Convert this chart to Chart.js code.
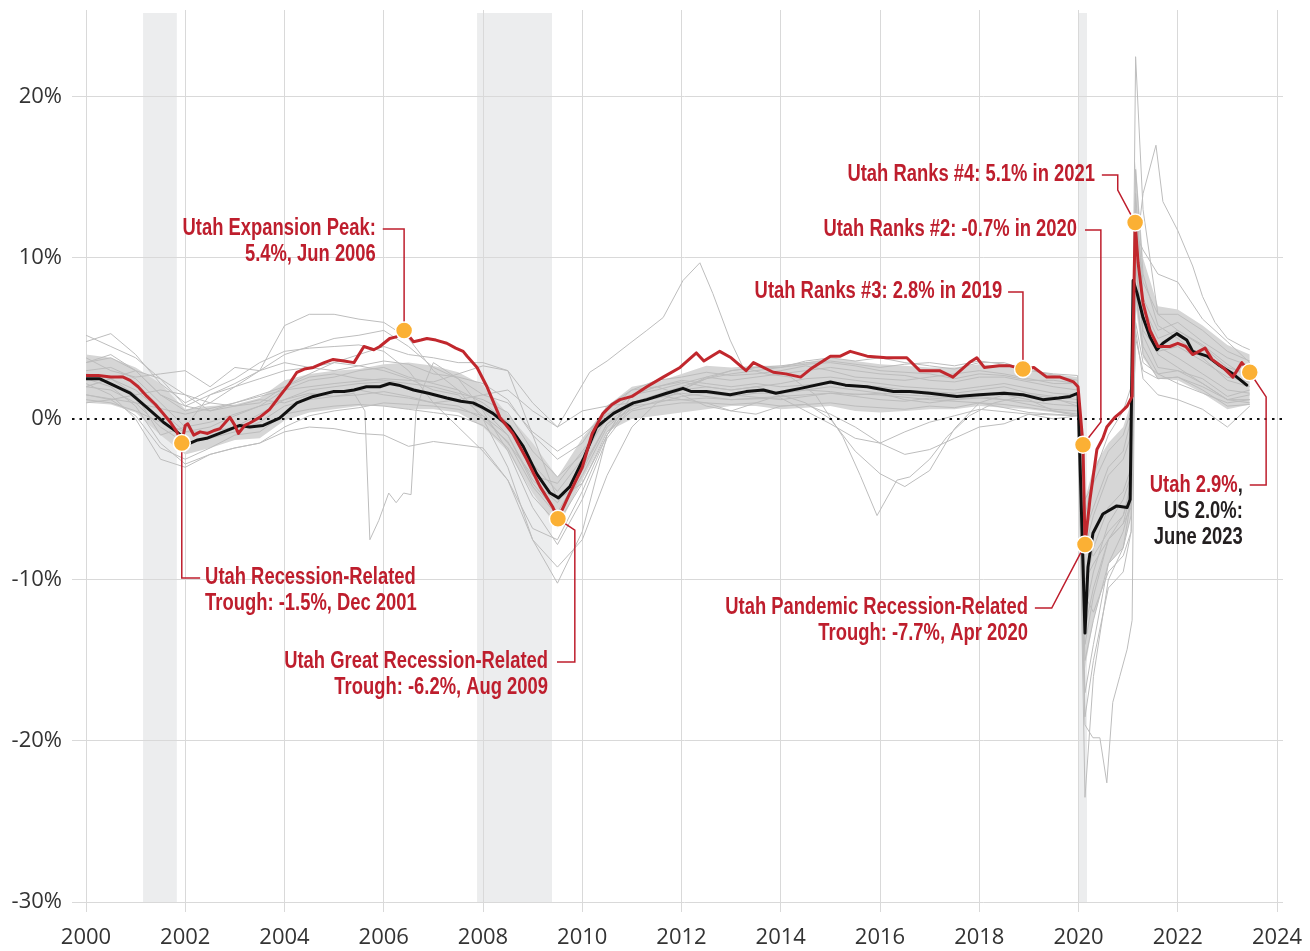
<!DOCTYPE html>
<html>
<head>
<meta charset="utf-8">
<script src="https://cdn.jsdelivr.net/npm/chart.js@4.4.0/dist/chart.umd.min.js"></script>
<style>
  html, body { margin: 0; padding: 0; background: #fff; }
</style>
</head>
<body>
<canvas id="empChart" width="1310" height="951"></canvas>
<script>
// tick labels
const yearTicks = [2000, 2002, 2004, 2006, 2008, 2010, 2012, 2014, 2016, 2018, 2020, 2022, 2024];
const pctTicks = [-30, -20, -10, 0, 10, 20];

// recessions (shaded)
const recessionStart = [2001.15, 2007.88, 2019.99];
const recessionEnd = [2001.83, 2009.39, 2020.17];

// Utah, year-over-year job growth (%)
const utahT = [2000.0, 2000.25, 2000.5, 2000.75, 2000.89, 2001.05, 2001.23, 2001.4, 2001.55, 2001.7,
  2001.83, 2001.93, 2002.0, 2002.05, 2002.17, 2002.3, 2002.45, 2002.6, 2002.7, 2002.9,
  2003.0, 2003.07, 2003.2, 2003.3, 2003.5, 2003.7, 2003.9, 2004.1, 2004.25, 2004.4,
  2004.58, 2004.8, 2004.98, 2005.2, 2005.4, 2005.6, 2005.8, 2005.92, 2006.12, 2006.25,
  2006.41, 2006.6, 2006.75, 2006.87, 2007.05, 2007.27, 2007.45, 2007.6, 2007.68, 2007.88,
  2008.08, 2008.34, 2008.6, 2008.88, 2009.15, 2009.41, 2009.51, 2009.75, 2010.0, 2010.2,
  2010.42, 2010.6, 2010.76, 2011.0, 2011.3, 2011.63, 2011.97, 2012.3, 2012.45, 2012.77,
  2013.0, 2013.3, 2013.45, 2013.85, 2014.1, 2014.4, 2014.6, 2015.0, 2015.2, 2015.4,
  2015.74, 2016.13, 2016.54, 2016.8, 2017.2, 2017.47, 2017.8, 2017.95, 2018.1, 2018.4,
  2018.62, 2018.88, 2019.1, 2019.36, 2019.63, 2019.9, 2019.99, 2020.09, 2020.13, 2020.23,
  2020.37, 2020.49, 2020.57, 2020.73, 2020.85, 2020.98, 2021.08, 2021.14, 2021.2, 2021.3,
  2021.44, 2021.6, 2021.84, 2022.0, 2022.16, 2022.3, 2022.55, 2022.69, 2022.91, 2023.11,
  2023.29, 2023.45];
const utahV = [2.7, 2.7, 2.6, 2.6, 2.4, 2.0, 1.4, 0.9, 0.35, -0.2,
  -0.8, -1.5, -0.4, -0.3, -1.0, -0.8, -0.9, -0.7, -0.6, 0.1,
  -0.4, -0.9, -0.4, -0.25, 0.1, 0.6, 1.4, 2.2, 2.9, 3.1,
  3.2, 3.5, 3.7, 3.6, 3.5, 4.5, 4.3, 4.5, 5.0, 5.1,
  5.5, 4.8, 4.9, 5.0, 4.9, 4.7, 4.4, 4.2, 3.9, 3.2,
  2.0, 0.1, -0.9, -2.5, -4.2, -5.5, -6.2, -4.6, -3.0, -0.9,
  0.35, 0.9, 1.2, 1.4, 2.0, 2.6, 3.2, 4.1, 3.6, 4.2,
  3.8, 3.0, 3.5, 2.9, 2.8, 2.6, 3.1, 3.9, 3.9, 4.2,
  3.9, 3.8, 3.8, 3.0, 3.0, 2.6, 3.5, 3.8, 3.2, 3.3,
  3.3, 3.1, 3.2, 2.6, 2.6, 2.3, 2.0, -1.6, -7.8, -5.0,
  -1.9, -1.2, -0.5, 0.1, 0.4, 0.8, 1.4, 12.2, 9.7, 7.2,
  5.5, 4.5, 4.5, 4.7, 4.5, 4.0, 4.4, 3.7, 3.2, 2.6,
  3.5, 2.9];

// United States
const usT = [2000.0, 2000.27, 2000.55, 2000.89, 2001.23, 2001.56, 2001.83, 2002.1, 2002.25, 2002.43,
  2002.6, 2002.77, 2003.1, 2003.3, 2003.57, 2003.9, 2004.25, 2004.58, 2004.98, 2005.2,
  2005.4, 2005.65, 2005.92, 2006.12, 2006.3, 2006.6, 2006.9, 2007.27, 2007.55, 2007.8,
  2008.0, 2008.2, 2008.54, 2008.81, 2009.08, 2009.35, 2009.52, 2009.75, 2010.02, 2010.29,
  2010.63, 2011.03, 2011.3, 2011.7, 2012.03, 2012.2, 2012.5, 2012.98, 2013.3, 2013.65,
  2013.9, 2014.4, 2015.0, 2015.3, 2015.74, 2016.27, 2016.6, 2017.0, 2017.55, 2018.0,
  2018.5, 2018.88, 2019.28, 2019.6, 2019.83, 2019.99, 2020.13, 2020.19, 2020.29, 2020.49,
  2020.77, 2020.98, 2021.04, 2021.1, 2021.18, 2021.3, 2021.44, 2021.58, 2021.7, 2021.98,
  2022.18, 2022.3, 2022.59, 2022.85, 2023.11, 2023.39];
const usV = [2.5, 2.5, 2.1, 1.6, 0.7, -0.2, -0.8, -1.5, -1.3, -1.2,
  -1.0, -0.8, -0.4, -0.5, -0.4, 0.05, 1.0, 1.4, 1.7, 1.7,
  1.8, 2.0, 2.0, 2.2, 2.1, 1.8, 1.6, 1.3, 1.1, 1.0,
  0.7, 0.35, -0.5, -1.7, -3.4, -4.6, -4.9, -4.2, -2.5, -0.5,
  0.35, 1.0, 1.2, 1.6, 1.9, 1.7, 1.7, 1.5, 1.7, 1.8,
  1.6, 1.9, 2.3, 2.1, 2.0, 1.7, 1.7, 1.6, 1.4, 1.5,
  1.6, 1.5, 1.2, 1.3, 1.4, 1.6, -13.3, -9.2, -7.1, -5.9,
  -5.4, -5.5, -5.0, 8.6, 7.8, 6.3, 5.1, 4.3, 4.7, 5.3,
  4.9, 4.2, 3.9, 3.3, 2.8, 2.1];

// other states: shared half-year grid (denser around 2020)
const grayT = [2000.0, 2000.5, 2001.0, 2001.5, 2002.0, 2002.5, 2003.0, 2003.5, 2004.0, 2004.5,
  2005.0, 2005.5, 2006.0, 2006.5, 2007.0, 2007.5, 2008.0, 2008.5, 2009.0, 2009.5,
  2010.0, 2010.5, 2011.0, 2011.5, 2012.0, 2012.5, 2013.0, 2013.5, 2014.0, 2014.5,
  2015.0, 2015.5, 2016.0, 2016.5, 2017.0, 2017.5, 2018.0, 2018.5, 2019.0, 2019.5,
  2019.98, 2020.13, 2020.3, 2020.6, 2020.9, 2021.06, 2021.15, 2021.3, 2021.6, 2022.0, 2022.5, 2023.0, 2023.45];

// dense core of the state lines
const bandHi = [4.0, 3.8, 3.2, 2.2, 0.6, 0.8, 0.9, 1.3, 2.4, 2.8,
  3.0, 3.1, 3.4, 3.5, 3.3, 2.9, 2.1, 0.3, -1.5, -3.6,
  -1.2, 0.8, 2.0, 2.3, 2.8, 3.3, 3.2, 3.3, 3.3, 3.5,
  3.8, 3.6, 3.4, 3.3, 3.2, 3.2, 3.4, 3.3, 3.0, 2.8,
  2.6, -5.0, -3.0, -1.5, -0.5, 1.0, 16.0, 10.0, 7.0, 6.8, 5.8, 4.6, 4.0];
const bandLo = [1.0, 0.9, 0.4, -1.0, -2.2, -1.8, -1.3, -1.2, -0.1, 0.4,
  0.6, 0.8, 0.8, 0.6, 0.6, 0.4, -0.5, -2.0, -4.6, -6.8,
  -3.8, -0.8, 0.0, 0.2, 0.4, 0.6, 0.8, 0.8, 0.6, 0.7,
  0.8, 0.5, 0.4, 0.5, 0.6, 0.6, 0.8, 0.7, 0.6, 0.4,
  0.2, -15.5, -12.5, -9.0, -8.0, -6.0, 7.0, 3.8, 2.5, 2.4, 1.6, 0.6, 0.9];

const stateA = [3.5, 3.8, 3.0, 1.5, 0.5, 1.0, 2.0, 3.0, 5.8, 6.5,
  6.5, 6.2, 6.0, 5.0, 3.0, 1.8, 0.0, -3.0, -7.5, -9.2,
  -7.5, -3.5, -0.5, 1.0, 1.8, 2.5, 3.0, 3.2, 3.3, 3.5,
  3.6, 3.4, 3.2, 3.4, 3.5, 3.3, 3.6, 3.4, 3.1, 2.7,
  2.4, -23.5, -16.0, -10.0, -8.0, -5.0, 22.5, 13.0, 6.5, 5.5, 4.6, 3.4, 2.5];
const stateB = [3.5, 4.0, 3.0, 1.5, 0.8, 1.5, 2.2, 3.0, 4.0, 4.5,
  5.0, 5.2, 5.5, 4.5, 3.2, 2.5, 0.5, -2.0, -5.5, -7.8,
  -5.0, -1.2, 0.8, 1.5, 2.0, 2.5, 2.8, 3.0, 3.2, 3.6,
  3.8, 3.6, 3.8, 3.5, 3.3, 3.1, 3.5, 3.5, 3.0, 2.8,
  2.7, -6.0, -3.5, -1.0, 0.5, 2.0, 13.0, 8.5, 6.5, 6.5, 5.5, 4.2, 3.6];
const stateC = [2.8, 2.5, 1.8, 0.5, -0.8, -0.8, -0.5, 0.3, 1.2, 1.8,
  2.0, 2.2, 2.3, 2.0, 1.5, 1.2, 0.6, -1.0, -3.8, -5.2,
  -3.0, -0.3, 1.0, 1.3, 1.8, 2.0, 1.8, 2.0, 2.2, 2.5,
  2.6, 2.4, 2.2, 2.0, 1.9, 1.8, 2.0, 2.2, 1.9, 1.6,
  1.5, -10.5, -8.0, -5.5, -4.5, -3.0, 9.5, 5.5, 4.2, 4.5, 3.6, 2.6, 2.3];
const stateD = [1.5, 1.2, 0.2, -1.8, -2.5, -1.8, -1.0, -0.8, 0.3, 0.6,
  0.8, 0.9, 0.8, 0.6, 0.4, 0.2, -0.4, -1.8, -4.8, -6.5,
  -4.0, -0.8, 0.5, 0.8, 1.0, 1.0, 0.9, 1.0, 0.8, 0.9,
  1.0, 0.8, 0.7, 0.6, 0.8, 0.7, 1.0, 0.9, 0.7, 0.5,
  0.3, -15.0, -12.5, -9.0, -8.0, -6.0, 8.0, 4.0, 2.5, 2.6, 1.8, 0.8, 0.9];
const stateE = [3.0, 3.2, 2.5, 1.0, -0.5, -0.2, 0.3, 0.8, 1.8, 2.4,
  2.6, 3.0, 3.2, 2.6, 2.2, 1.8, 1.0, -0.2, -2.8, -4.5,
  -2.5, 0.2, 1.5, 1.8, 2.2, 2.6, 2.4, 2.6, 2.8, 3.0,
  3.2, 3.0, 2.8, 2.7, 2.4, 2.3, 2.6, 2.6, 2.3, 2.0,
  1.8, -8.0, -6.0, -3.5, -2.5, -1.0, 11.0, 7.0, 5.0, 5.5, 4.5, 3.2, 2.8];
const stateF = [2.0, 1.8, 1.0, -0.5, -1.5, -1.2, -0.8, -0.2, 0.8, 1.2,
  1.4, 1.5, 1.7, 1.4, 1.0, 0.8, 0.0, -1.4, -4.2, -6.0,
  -3.5, -0.5, 0.8, 1.0, 1.4, 1.6, 1.4, 1.6, 1.6, 1.8,
  2.0, 1.8, 1.6, 1.5, 1.4, 1.3, 1.5, 1.7, 1.4, 1.2,
  1.0, -13.0, -10.5, -7.5, -6.5, -4.5, 12.5, 6.8, 4.5, 3.8, 2.8, 1.8, 1.6];
const stateG = [5.2, 4.5, 3.8, 2.5, 0.8, 0.5, 0.8, 1.0, 2.0, 2.6,
  2.8, 2.5, 2.4, 2.2, 2.0, 1.6, 1.2, 0.4, -2.0, -3.6,
  -2.2, 0.5, 1.8, 2.0, 2.4, 2.2, 2.0, 2.2, 2.0, 2.1,
  2.3, 2.1, 2.0, 1.8, 1.7, 1.6, 1.8, 2.0, 1.6, 1.4,
  1.2, -7.0, -5.5, -3.0, -2.0, 0.0, 15.5, 9.0, 5.8, 5.0, 3.8, 2.4, 2.0];
const stateH = [3.8, 3.0, 2.6, 2.8, 3.0, 2.0, 3.2, 3.0, 3.5, 3.2,
  3.0, 3.3, 3.6, 3.4, 2.8, 2.6, 2.2, 1.2, -1.0, -2.5,
  -1.5, 0.8, 1.8, 2.4, 2.6, 2.9, 2.7, 2.8, 3.0, 3.3,
  3.0, 2.6, 2.5, 2.4, 2.6, 2.8, 3.0, 2.8, 2.5, 2.2,
  2.2, -5.0, -4.0, -2.0, -1.0, 0.5, 14.0, 7.5, 5.5, 6.0, 4.8, 3.8, 3.3];
const stateI = [2.5, 2.0, 0.8, -1.5, -2.8, -2.2, -1.8, -1.5, -0.5, 0.2,
  0.5, 0.7, 1.0, 0.9, 0.8, 0.6, 0.2, -1.0, -4.0, -5.8,
  -3.2, -0.3, 0.6, 1.1, 1.2, 1.3, 1.2, 1.3, 1.4, 1.5,
  1.6, 1.4, 1.2, 1.1, 1.3, 1.2, 1.3, 1.2, 1.1, 0.9,
  0.8, -18.5, -15.0, -10.5, -9.5, -7.0, 10.0, 5.2, 3.2, 3.0, 2.2, 1.2, 1.2];
const stateJ = [4.8, 5.3, 4.0, 2.2, 1.0, 1.8, 2.5, 3.5, 4.2, 4.4,
  4.5, 4.6, 4.2, 3.0, 1.0, -0.5, -2.0, -3.8, -6.8, -7.5,
  -4.5, -1.0, 1.0, 1.5, 1.8, 2.6, 3.0, 3.2, 3.2, 3.4,
  3.5, 3.3, 3.0, 2.9, 2.8, 2.5, 2.8, 2.7, 2.4, 2.4,
  2.2, -12.0, -9.5, -6.5, -5.0, -3.5, 11.5, 10.5, 9.0, 8.5, 6.2, 4.8, 3.5];
const stateK = [2.2, 1.5, 0.0, -2.5, -3.0, -2.2, -1.8, -1.5, -0.8, -0.5,
  -0.6, -0.9, -1.0, -1.7, -1.4, -1.6, -1.8, -3.8, -7.5, -10.2,
  -7.0, -1.0, 1.5, 2.0, 2.3, 2.0, 1.8, 2.0, 1.6, 1.8,
  1.7, 1.5, 1.6, 1.2, 1.0, 1.2, 1.4, 1.2, 0.9, 0.6,
  0.5, -17.0, -14.0, -9.0, -7.0, -5.0, 12.0, 6.5, 4.0, 3.2, 2.2, 1.2, 1.0];
const stateL = [2.0, 2.5, 3.0, 2.5, 1.5, 0.5, 1.0, 1.5, 2.0, 2.8,
  3.5, 4.0, 4.5, 4.0, 3.8, 3.5, 3.5, 3.0, -1.0, -5.0,
  -4.0, -1.0, 1.5, 2.0, 1.5, 0.8, 0.5, 1.0, 1.5, 1.0,
  0.0, -2.0, -3.4, -4.2, -3.2, -0.6, 1.0, 1.5, 1.2, 0.5,
  0.2, -10.0, -9.0, -7.5, -6.0, -4.5, 6.0, 3.5, 2.8, 3.0, 2.5, 1.4, 1.8];
const stateM = [1.0, 1.2, 1.5, 1.8, 1.5, 1.0, 0.8, 1.2, 1.0, 1.5,
  1.6, 1.8, 1.5, 1.3, 1.0, 1.2, 1.5, 1.8, 0.5, -0.5,
  0.5, 0.8, 1.0, 1.5, 1.2, 1.0, 0.5, 0.3, 0.8, 0.9,
  0.3, -0.5, -1.5, -2.2, -1.9, -1.2, -0.5, -0.3, 0.3, 0.0,
  0.2, -11.0, -12.0, -9.5, -8.5, -7.0, 5.5, 2.5, 1.5, 1.2, 0.6, -0.5, 0.8];

// outlier states with their own dates
const oilT = [2000, 2001, 2002, 2003, 2004, 2005, 2006, 2007, 2008, 2008.5,
  2009, 2009.5, 2010.15, 2010.5, 2010.96, 2011.3, 2011.63, 2012.03, 2012.37, 2012.63,
  2012.98, 2013.24, 2013.7, 2014.2, 2014.7, 2015.25, 2015.6, 2015.94, 2016.34, 2016.6,
  2017.0, 2017.35, 2017.8, 2018.3, 2019.0, 2019.5, 2019.98, 2020.13, 2020.3, 2020.6,
  2020.9, 2021.06, 2021.15, 2021.3, 2021.6, 2022.0, 2022.5, 2023.0, 2023.45];
const oilV = [1.5, 1.0, 0.3, 1.0, 1.8, 2.2, 2.5, 2.3, 3.3, 3.0,
  1.0, -0.5, 2.9, 3.6, 4.7, 5.5, 6.3, 8.6, 9.7, 7.8,
  4.9, 3.2, 2.8, 2.6, 1.5, -1.1, -3.5, -6.0, -3.8, -3.6,
  -2.5, -1.1, 0.2, 1.0, 1.5, 1.3, 0.8, -8.0, -8.5, -7.0,
  -6.0, -4.0, 5.0, 3.0, 2.5, 2.6, 2.0, 1.2, 1.5];

const stormT = [2000, 2000.5, 2001, 2001.5, 2002, 2002.5, 2003, 2003.5, 2004, 2004.5,
  2005, 2005.4, 2005.62, 2005.72, 2005.9, 2006.1, 2006.25, 2006.4, 2006.55, 2006.65,
  2006.8, 2007.0, 2007.5, 2008, 2008.5, 2009, 2009.5, 2010, 2010.5, 2011,
  2012, 2013, 2014, 2014.5, 2015, 2015.5, 2016, 2016.5, 2017, 2017.5,
  2018, 2019, 2019.98, 2020.13, 2020.3, 2020.6, 2020.9, 2021.06, 2021.15, 2021.3,
  2021.6, 2022, 2022.5, 2023, 2023.45];
const stormV = [1.2, 1.0, 0.5, -0.2, -0.8, -0.5, 0.2, 0.8, 1.2, 1.6,
  1.4, 1.6, 0.5, -7.5, -6.3, -4.6, -5.2, -4.6, -4.7, 0.5,
  2.0, 3.5, 2.5, 1.5, 1.0, -0.8, -2.0, -1.0, 0.3, 1.0,
  1.6, 1.2, 1.3, 0.5, -0.3, -1.2, -1.5, -0.8, -0.2, 0.2,
  0.6, 0.3, 0.2, -14.0, -11.0, -7.5, -6.5, -5.5, 8.0, 4.5,
  2.8, 2.2, 1.6, 1.0, 1.2];

const islandT = [2000, 2000.5, 2001, 2001.5, 2002, 2002.5, 2003, 2003.5, 2004, 2004.5,
  2005, 2005.5, 2006, 2006.5, 2007, 2007.5, 2008, 2008.5, 2009, 2009.5,
  2010, 2010.5, 2011, 2012, 2013, 2014, 2015, 2016, 2017, 2018,
  2019, 2019.98, 2020.13, 2020.29, 2020.43, 2020.57, 2020.69, 2020.83, 2020.98, 2021.08,
  2021.15, 2021.3, 2021.56, 2021.7, 2022.0, 2022.3, 2022.5, 2022.75, 2023.0, 2023.3,
  2023.45];
const islandV = [2.0, 2.5, 1.5, -1.0, -0.5, 1.5, 2.0, 2.5, 3.0, 3.2,
  3.5, 3.3, 3.0, 2.5, 1.8, 1.5, 0.2, -1.5, -3.5, -4.0,
  -2.0, 0.0, 1.0, 1.8, 1.5, 1.2, 1.6, 1.5, 1.2, 1.0,
  0.4, 0.2, -19.0, -19.8, -19.8, -22.6, -17.6, -16.0, -14.3, -12.5,
  10.0, 14.0, 17.0, 13.5, 11.7, 9.5, 7.6, 6.0, 5.0, 4.5,
  4.3];

// highlighted Utah points (orange dots)
const markT = [2001.93, 2006.41, 2009.51, 2018.88, 2020.09, 2020.13, 2021.14, 2023.45];

const RED = '#be1e2d';
const INK = '#231f20';

// callouts: text lines (segments of [text, colour]), anchor, leader path, dot index
const notes = [
  { lines: [[['Utah Expansion Peak:', RED]], [['5.4%, Jun 2006', RED]]], at: [2005.84, 11.8], align: 'right',
    path: [[2005.98, 11.8], [2006.41, 11.8]], dot: 1 },
  { lines: [[['Utah Recession-Related', RED]], [['Trough: -1.5%, Dec 2001', RED]]], at: [2002.4, -9.88], align: 'left',
    path: [[2002.3, -9.88], [2001.93, -9.88]], dot: 0 },
  { lines: [[['Utah Great Recession-Related', RED]], [['Trough: -6.2%, Aug 2009', RED]]], at: [2009.31, -15.1], align: 'right',
    path: [[2009.49, -15.1], [2009.85, -15.1], [2009.85, -6.9]], dot: 2 },
  { lines: [[['Utah Pandemic Recession-Related', RED]], [['Trough: -7.7%, Apr 2020', RED]]], at: [2018.98, -11.74], align: 'right',
    path: [[2019.12, -11.74], [2019.46, -11.74]], dot: 5 },
  { lines: [[['Utah Ranks #3: 2.8% in 2019', RED]]], at: [2018.46, 7.89], align: 'right',
    path: [[2018.58, 7.89], [2018.88, 7.89]], dot: 3 },
  { lines: [[['Utah Ranks #2: -0.7% in 2020', RED]]], at: [2019.97, 11.74], align: 'right',
    path: [[2020.13, 11.74], [2020.45, 11.74], [2020.45, -0.19]], dot: 4 },
  { lines: [[['Utah Ranks #4: 5.1% in 2021', RED]]], at: [2020.33, 15.16], align: 'right',
    path: [[2020.47, 15.16], [2020.79, 15.16], [2020.79, 14.22]], dot: 6 },
  { lines: [[['Utah 2.9%', RED], [',', INK]], [['US 2.0%:', INK]], [['June 2023', INK]]], at: [2023.31, -4.16], align: 'right',
    path: [[2023.45, -4.1], [2023.78, -4.1], [2023.78, 1.37]], dot: 7 },
];

const pts = (t, v) => t.map((x, i) => ({ x: x, y: v[i] }));
const markData = markT.map(t => ({ x: t, y: utahV[utahT.indexOf(t)] }));

const grayLines = [
  pts(grayT, stateA), pts(grayT, stateB), pts(grayT, stateC), pts(grayT, stateD),
  pts(grayT, stateE), pts(grayT, stateF), pts(grayT, stateG), pts(grayT, stateH),
  pts(grayT, stateI), pts(grayT, stateJ), pts(grayT, stateK), pts(grayT, stateL),
  pts(grayT, stateM), pts(oilT, oilV), pts(stormT, stormV), pts(islandT, islandV)
];

const datasets = [
  { label: 'marks', data: markData, showLine: false, pointRadius: 8.5, pointHoverRadius: 8.5,
    pointBackgroundColor: '#fbb034', pointBorderColor: '#ffffff', pointBorderWidth: 1.5 },
  { label: 'Utah', data: pts(utahT, utahV), borderColor: '#c1272d', borderWidth: 3, pointRadius: 0,
    borderJoinStyle: 'round', borderCapStyle: 'round' },
  { label: 'United States', data: pts(usT, usV), borderColor: '#111111', borderWidth: 3, pointRadius: 0,
    borderJoinStyle: 'round', borderCapStyle: 'round' },
];
grayLines.forEach((d, i) => datasets.push({
  label: 'state' + i, data: d, borderColor: '#bdbdbd', borderWidth: 1, pointRadius: 0, borderJoinStyle: 'round'
}));
datasets.push({ label: 'bandHi', data: pts(grayT, bandHi), borderColor: 'rgba(0,0,0,0)', borderWidth: 0,
  pointRadius: 0, fill: '+1', backgroundColor: '#d6d6d6' });
datasets.push({ label: 'bandLo', data: pts(grayT, bandLo), borderColor: 'rgba(0,0,0,0)', borderWidth: 0,
  pointRadius: 0, fill: false });

const gridColor = '#d9d9d9';
const tickFont = { family: '"Open Sans", "Liberation Sans", sans-serif', size: 22 };
// no narrow face installed: bold Liberation Sans squeezed sideways
const noteFont = 'bold 23px "Liberation Sans", Arial, sans-serif';
const squeeze = 0.8;

// shaded recessions, under the grid
const recessionShade = {
  id: 'recessionShade',
  beforeDraw(chart) {
    const { ctx, chartArea, scales: { x } } = chart;
    ctx.save();
    ctx.fillStyle = '#ecedee';
    recessionStart.forEach((s, i) => {
      const x1 = x.getPixelForValue(s);
      const x2 = x.getPixelForValue(recessionEnd[i]);
      ctx.fillRect(x1, chartArea.top + 3, x2 - x1, chartArea.bottom - chartArea.top - 3);
    });
    ctx.restore();
  }
};

// dotted zero line and the callouts
const extras = {
  id: 'extras',
  beforeDatasetDraw(chart, args) {
    const { ctx, chartArea, scales: { x, y } } = chart;
    const label = chart.data.datasets[args.index].label;
    if (label === 'United States') {
      const y0 = y.getPixelForValue(0);
      ctx.save();
      ctx.strokeStyle = '#111';
      ctx.lineWidth = 2;
      ctx.setLineDash([2.5, 5]);
      ctx.beginPath();
      ctx.moveTo(chartArea.left - y.options.grid.tickLength, y0);
      ctx.lineTo(chartArea.right, y0);
      ctx.stroke();
      ctx.restore();
    }
    if (label === 'marks') {
      const dots = chart.getDatasetMeta(args.index).data;
      ctx.save();
      ctx.strokeStyle = RED;
      ctx.lineWidth = 1.5;
      notes.forEach(n => {
        ctx.beginPath();
        n.path.forEach((p, i) => {
          const px = x.getPixelForValue(p[0]), py = y.getPixelForValue(p[1]);
          if (i === 0) ctx.moveTo(px, py); else ctx.lineTo(px, py);
        });
        ctx.lineTo(dots[n.dot].x, dots[n.dot].y);
        ctx.stroke();
      });
      ctx.font = noteFont;
      ctx.textBaseline = 'middle';
      ctx.textAlign = 'left';
      notes.forEach(n => {
        const ax = x.getPixelForValue(n.at[0]);
        const ay = y.getPixelForValue(n.at[1]);
        n.lines.forEach((segs, li) => {
          const w = segs.reduce((s, g) => s + ctx.measureText(g[0]).width * squeeze, 0);
          let cx = n.align === 'right' ? ax - w : ax;
          segs.forEach(g => {
            ctx.save();
            ctx.translate(cx, ay + li * 26);
            ctx.scale(squeeze, 1);
            ctx.fillStyle = g[1];
            ctx.fillText(g[0], 0, 0);
            ctx.restore();
            cx += ctx.measureText(g[0]).width * squeeze;
          });
        });
      });
      ctx.restore();
    }
  }
};

new Chart(document.getElementById('empChart'), {
  type: 'line',
  data: { datasets: datasets },
  options: {
    responsive: false,
    animation: false,
    events: [],
    layout: { padding: { top: 10, right: 27, bottom: 0, left: 0 } },
    plugins: { legend: { display: false }, tooltip: { enabled: false } },
    scales: {
      x: {
        type: 'linear', min: 2000, max: 2024.12,
        afterBuildTicks: s => { s.ticks = yearTicks.map(v => ({ value: v })); },
        afterFit: s => { s.height = 49; s.paddingLeft = 0; s.paddingRight = 0; },
        grid: { color: gridColor, tickColor: gridColor, lineWidth: 1, tickLength: 10 },
        border: { display: false },
        ticks: { font: tickFont, color: '#333', padding: 13, maxRotation: 0, autoSkip: false,
          callback: v => String(v) }
      },
      y: {
        type: 'linear', min: -30, max: 25.4,
        afterBuildTicks: s => { s.ticks = pctTicks.map(v => ({ value: v })); },
        afterFit: s => { s.width = 86; s.paddingTop = 0; s.paddingBottom = 0; },
        grid: {
          color: c => (c.tick && c.tick.value === 0) ? 'rgba(0,0,0,0)' : gridColor,
          tickColor: c => (c.tick && c.tick.value === 0) ? 'rgba(0,0,0,0)' : gridColor,
          lineWidth: 1, tickLength: 14
        },
        border: { display: false },
        ticks: { font: tickFont, color: '#333', padding: 10, callback: v => v + '%' }
      }
    }
  },
  plugins: [recessionShade, extras]
});
</script>
</body>
</html>
